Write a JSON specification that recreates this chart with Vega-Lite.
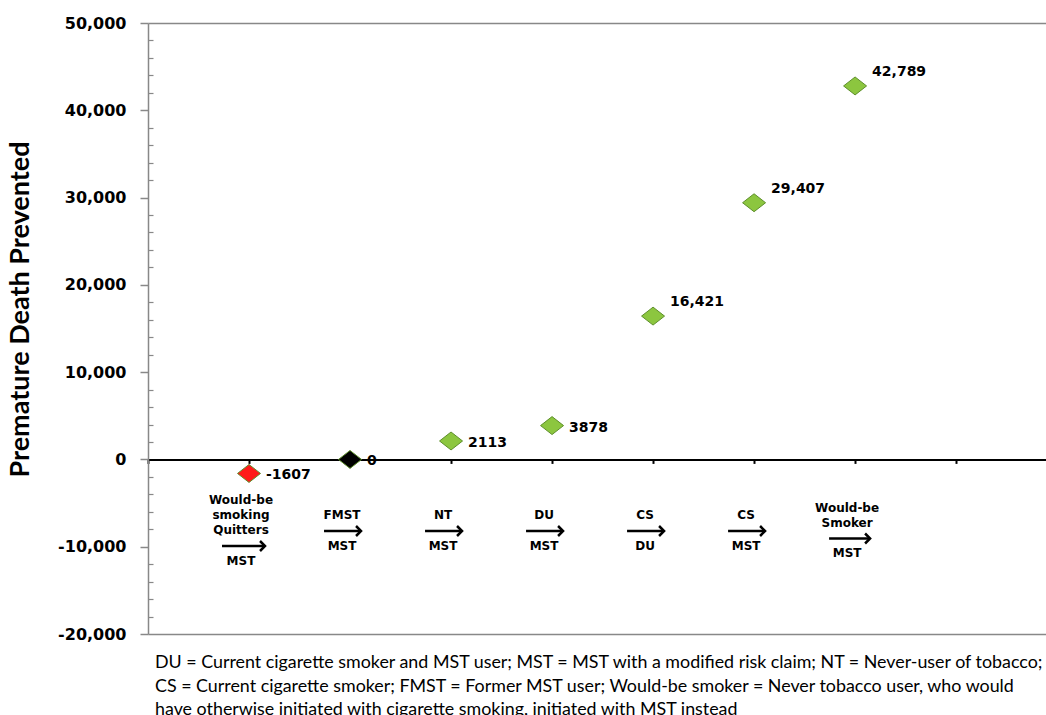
{
  "$schema": "https://vega.github.io/schema/vega-lite/v6.json",
  "width": 898,
  "height": 611,
  "autosize": {"type": "none"},
  "padding": {"left": 148, "top": 23, "right": 0, "bottom": 81},
  "background": "#ffffff",
  "config": {"view": {"stroke": null}, "axis": {"grid": false}},
  "title": {
    "text": [
      "DU = Current cigarette smoker and MST user; MST = MST with a modified risk claim; NT = Never-user of tobacco;",
      "CS = Current cigarette smoker; FMST = Former MST user; Would-be smoker = Never tobacco user, who would",
      "have otherwise initiated with cigarette smoking, initiated with MST instead"
    ],
    "orient": "bottom",
    "anchor": "start",
    "frame": "group",
    "font": "Lato",
    "fontSize": 17.85,
    "fontWeight": "normal",
    "color": "#000000",
    "lineHeight": 23.5,
    "offset": 12,
    "dx": 7
  },
  "data": {
    "values": [
      {"idx": 1, "value": -1607, "label": "-1607", "from": "Would-be\nsmoking\nQuitters", "to": "MST"},
      {"idx": 2, "value": 0, "label": "0", "from": "FMST", "to": "MST"},
      {"idx": 3, "value": 2113, "label": "2113", "from": "NT", "to": "MST"},
      {"idx": 4, "value": 3878, "label": "3878", "from": "DU", "to": "MST"},
      {"idx": 5, "value": 16421, "label": "16,421", "from": "CS", "to": "DU"},
      {"idx": 6, "value": 29407, "label": "29,407", "from": "CS", "to": "MST"},
      {"idx": 7, "value": 42789, "label": "42,789", "from": "Would-be\nSmoker", "to": "MST"}
    ]
  },
  "layer": [
    {
      "mark": {"type": "point", "shape": "M-1,0L0,-0.78L1,0L0,0.78Z", "filled": true, "size": 529, "stroke": "#5e8f2b", "strokeWidth": 1, "opacity": 1},
      "encoding": {
        "x": {"field": "idx", "type": "quantitative", "scale": {"domain": [0, 8.89], "nice": false, "zero": false},
          "axis": {"orient": "bottom", "offset": -174.6, "values": [0, 1, 2, 3, 4, 5, 6, 7, 8], "labels": false, "title": null, "domainColor": "#000000", "domainWidth": 2, "tickColor": "#000000", "tickWidth": 2, "tickSize": 4}},
        "y": {"field": "value", "type": "quantitative", "scale": {"domain": [-20000, 50000], "nice": false, "zero": false},
          "axis": {"orient": "left", "values": [-20000, -10000, 0, 10000, 20000, 30000, 40000, 50000], "labelExpr": "replace(format(datum.value, ',d'), '\u2212', '-')", "domainColor": "#888888", "domainWidth": 1.5, "tickColor": "#888888", "tickWidth": 1.5, "tickSize": 8, "labelFont": "DejaVu Sans", "labelFontWeight": "bold", "labelFontSize": 16, "labelColor": "#000000", "labelPadding": 14,
            "title": "Premature Death Prevented", "titleFont": "Lato", "titleFontSize": 27, "titleFontWeight": "bold", "titleColor": "#000000", "titleX": -114, "titleY": 286}},
        "fill": {"condition": [{"test": "datum.value < 0", "value": "#ff1a1a"}, {"test": "datum.value == 0", "value": "#000000"}], "value": "#8cc63f"}
      }
    },
    {
      "transform": [{"filter": "datum.value > 10000"}],
      "mark": {"type": "text", "align": "left", "baseline": "middle", "dx": 17, "dy": -14, "font": "DejaVu Sans", "fontWeight": "bold", "fontSize": 14, "color": "#000000"},
      "encoding": {
        "x": {"field": "idx", "type": "quantitative", "scale": {"domain": [0, 8.89], "nice": false, "zero": false},
          "axis": {"orient": "top", "ticks": false, "labels": false, "title": null, "domainColor": "#888888", "domainWidth": 1.5}},
        "y": {"field": "value", "type": "quantitative", "scale": {"domain": [-20000, 50000], "nice": false, "zero": false},
          "axis": {"orient": "left", "values": [-18000, -16000, -14000, -12000, -8000, -6000, -4000, -2000, 2000, 4000, 6000, 8000, 12000, 14000, 16000, 18000, 22000, 24000, 26000, 28000, 32000, 34000, 36000, 38000, 42000, 44000, 46000, 48000], "labels": false, "domain": false, "title": null, "tickSize": -5, "tickColor": "#888888", "tickWidth": 1.2}},
        "text": {"field": "label"}
      }
    },
    {
      "transform": [{"filter": "datum.value <= 10000"}],
      "mark": {"type": "text", "align": "left", "baseline": "middle", "dx": 17, "dy": 2, "font": "DejaVu Sans", "fontWeight": "bold", "fontSize": 14, "color": "#000000"},
      "encoding": {
        "x": {"field": "idx", "type": "quantitative", "scale": {"domain": [0, 8.89], "nice": false, "zero": false},
          "axis": {"orient": "bottom", "ticks": false, "labels": false, "title": null, "domainColor": "#888888", "domainWidth": 1.5}},
        "y": {"field": "value", "type": "quantitative", "scale": {"domain": [-20000, 50000], "nice": false, "zero": false}, "axis": null},
        "text": {"field": "label"}
      }
    },
    {
      "transform": [{"filter": "length(split(datum.from, '\\n')) == 1"}],
      "layer": [
        {
          "mark": {"type": "text", "align": "center", "baseline": "middle", "dx": -8, "font": "DejaVu Sans", "fontWeight": "bold", "fontSize": 12, "color": "#000000"},
          "encoding": {
            "x": {"field": "idx", "type": "quantitative", "scale": {"domain": [0, 8.89], "nice": false, "zero": false}, "axis": null},
            "y": {"datum": -6400, "type": "quantitative", "scale": {"domain": [-20000, 50000], "nice": false, "zero": false}, "axis": null},
            "text": {"field": "from"}
          }
        },
        {
          "mark": {"type": "tick", "orient": "horizontal", "size": 36, "thickness": 2.5, "color": "#000000", "opacity": 1, "xOffset": -8},
          "encoding": {
            "x": {"field": "idx", "type": "quantitative", "scale": {"domain": [0, 8.89], "nice": false, "zero": false}, "axis": null},
            "y": {"datum": -8200, "type": "quantitative", "scale": {"domain": [-20000, 50000], "nice": false, "zero": false}, "axis": null}
          }
        },
        {
          "mark": {"type": "point", "shape": "M-1,-1L0,0L-1,1", "filled": false, "size": 100, "stroke": "#000000", "strokeWidth": 2.5, "opacity": 1, "xOffset": 11},
          "encoding": {
            "x": {"field": "idx", "type": "quantitative", "scale": {"domain": [0, 8.89], "nice": false, "zero": false}, "axis": null},
            "y": {"datum": -8200, "type": "quantitative", "scale": {"domain": [-20000, 50000], "nice": false, "zero": false}, "axis": null}
          }
        },
        {
          "mark": {"type": "text", "align": "center", "baseline": "middle", "dx": -8, "font": "DejaVu Sans", "fontWeight": "bold", "fontSize": 12, "color": "#000000"},
          "encoding": {
            "x": {"field": "idx", "type": "quantitative", "scale": {"domain": [0, 8.89], "nice": false, "zero": false}, "axis": null},
            "y": {"datum": -9900, "type": "quantitative", "scale": {"domain": [-20000, 50000], "nice": false, "zero": false}, "axis": null},
            "text": {"field": "to"}
          }
        }
      ]
    },
    {
      "transform": [{"filter": "length(split(datum.from, '\\n')) == 2"}],
      "layer": [
        {
          "mark": {"type": "text", "align": "center", "baseline": "middle", "dx": -8, "dy": -7.5, "lineBreak": "\n", "lineHeight": 15, "font": "DejaVu Sans", "fontWeight": "bold", "fontSize": 12, "color": "#000000"},
          "encoding": {
            "x": {"field": "idx", "type": "quantitative", "scale": {"domain": [0, 8.89], "nice": false, "zero": false}, "axis": null},
            "y": {"datum": -6400, "type": "quantitative", "scale": {"domain": [-20000, 50000], "nice": false, "zero": false}, "axis": null},
            "text": {"field": "from"}
          }
        },
        {
          "mark": {"type": "tick", "orient": "horizontal", "size": 40, "thickness": 2.5, "color": "#000000", "opacity": 1, "xOffset": -6, "yOffset": 7.5},
          "encoding": {
            "x": {"field": "idx", "type": "quantitative", "scale": {"domain": [0, 8.89], "nice": false, "zero": false}, "axis": null},
            "y": {"datum": -8200, "type": "quantitative", "scale": {"domain": [-20000, 50000], "nice": false, "zero": false}, "axis": null}
          }
        },
        {
          "mark": {"type": "point", "shape": "M-1,-1L0,0L-1,1", "filled": false, "size": 100, "stroke": "#000000", "strokeWidth": 2.5, "opacity": 1, "xOffset": 15, "yOffset": 7.5},
          "encoding": {
            "x": {"field": "idx", "type": "quantitative", "scale": {"domain": [0, 8.89], "nice": false, "zero": false}, "axis": null},
            "y": {"datum": -8200, "type": "quantitative", "scale": {"domain": [-20000, 50000], "nice": false, "zero": false}, "axis": null}
          }
        },
        {
          "mark": {"type": "text", "align": "center", "baseline": "middle", "dx": -8, "dy": 7.5, "font": "DejaVu Sans", "fontWeight": "bold", "fontSize": 12, "color": "#000000"},
          "encoding": {
            "x": {"field": "idx", "type": "quantitative", "scale": {"domain": [0, 8.89], "nice": false, "zero": false}, "axis": null},
            "y": {"datum": -9900, "type": "quantitative", "scale": {"domain": [-20000, 50000], "nice": false, "zero": false}, "axis": null},
            "text": {"field": "to"}
          }
        }
      ]
    },
    {
      "transform": [{"filter": "length(split(datum.from, '\\n')) == 3"}],
      "layer": [
        {
          "mark": {"type": "text", "align": "center", "baseline": "middle", "dx": -8, "dy": -15, "lineBreak": "\n", "lineHeight": 15, "font": "DejaVu Sans", "fontWeight": "bold", "fontSize": 12, "color": "#000000"},
          "encoding": {
            "x": {"field": "idx", "type": "quantitative", "scale": {"domain": [0, 8.89], "nice": false, "zero": false}, "axis": null},
            "y": {"datum": -6400, "type": "quantitative", "scale": {"domain": [-20000, 50000], "nice": false, "zero": false}, "axis": null},
            "text": {"field": "from"}
          }
        },
        {
          "mark": {"type": "tick", "orient": "horizontal", "size": 42, "thickness": 2.5, "color": "#000000", "opacity": 1, "xOffset": -6, "yOffset": 15},
          "encoding": {
            "x": {"field": "idx", "type": "quantitative", "scale": {"domain": [0, 8.89], "nice": false, "zero": false}, "axis": null},
            "y": {"datum": -8200, "type": "quantitative", "scale": {"domain": [-20000, 50000], "nice": false, "zero": false}, "axis": null}
          }
        },
        {
          "mark": {"type": "point", "shape": "M-1,-1L0,0L-1,1", "filled": false, "size": 100, "stroke": "#000000", "strokeWidth": 2.5, "opacity": 1, "xOffset": 16, "yOffset": 15},
          "encoding": {
            "x": {"field": "idx", "type": "quantitative", "scale": {"domain": [0, 8.89], "nice": false, "zero": false}, "axis": null},
            "y": {"datum": -8200, "type": "quantitative", "scale": {"domain": [-20000, 50000], "nice": false, "zero": false}, "axis": null}
          }
        },
        {
          "mark": {"type": "text", "align": "center", "baseline": "middle", "dx": -8, "dy": 15, "font": "DejaVu Sans", "fontWeight": "bold", "fontSize": 12, "color": "#000000"},
          "encoding": {
            "x": {"field": "idx", "type": "quantitative", "scale": {"domain": [0, 8.89], "nice": false, "zero": false}, "axis": null},
            "y": {"datum": -9900, "type": "quantitative", "scale": {"domain": [-20000, 50000], "nice": false, "zero": false}, "axis": null},
            "text": {"field": "to"}
          }
        }
      ]
    }
  ],
  "resolve": {"axis": {"x": "independent", "y": "independent"}}
}
